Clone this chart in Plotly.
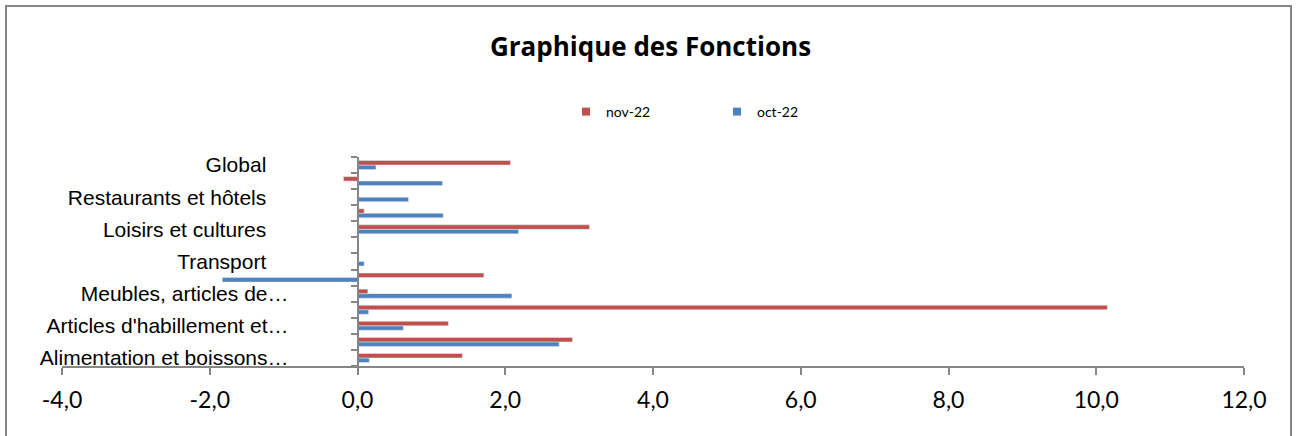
import plotly.graph_objects as go

# ---- data (bottom to top, as displayed) ----
categories = [
    "Alimentation et boissons…",
    "Boissons alcoolisées et tabac",
    "Articles d'habillement et…",
    "Logement, eau, gaz, électricité…",
    "Meubles, articles de…",
    "Santé",
    "Transport",
    "Communication",
    "Loisirs et cultures",
    "Enseignement",
    "Restaurants et hôtels",
    "Biens et services divers",
    "Global",
]
oct_22 = [0.16, 2.73, 0.62, 0.15, 2.09, -1.83, 0.09, 0.0, 2.18, 1.16, 0.69, 1.15, 0.25]
nov_22 = [1.42, 2.91, 1.23, 10.15, 0.14, 1.71, 0.0, 0.0, 3.14, 0.09, 0.0, -0.19, 2.07]
x_ticks = [-4, -2, 0, 2, 4, 6, 8, 10, 12]
x_tick_labels = [f"{v:.1f}".replace(".", ",") for v in x_ticks]
series_names = ["nov-22", "oct-22"]

RED = "#C0504D"
BLUE = "#4F81BD"
AXIS = "#868686"

W, H = 1301, 436
ML, MR, MT, MB = 62, 57, 157, 70
PW, PH = W - ML - MR, H - MT - MB

pos = list(range(len(categories)))
shown = pos[::2]
short_idx = [i for i in shown if not categories[i].endswith("…")]
trunc_idx = [i for i in shown if categories[i].endswith("…")]

fig = go.Figure()
fig.add_trace(go.Bar(x=oct_22, y=pos, orientation="h", name=series_names[1],
                     marker_color=BLUE, showlegend=False,
                     hovertext=categories, hoverinfo="text+x"))
fig.add_trace(go.Bar(x=nov_22, y=pos, orientation="h", name=series_names[0],
                     marker_color=RED, showlegend=False,
                     hovertext=categories, hoverinfo="text+x"))
# legend entries (small square symbols)
for name, col in [(series_names[0], RED), (series_names[1], BLUE)]:
    fig.add_trace(go.Scatter(x=[None], y=[None], mode="markers", name=name,
                             marker=dict(symbol="square", size=8, color=col)))
# empty trace so the second (label-only) y axis is drawn
fig.add_trace(go.Scatter(x=[None], y=[None], yaxis="y2", showlegend=False,
                         hoverinfo="skip"))

x0 = (0 - x_ticks[0]) / (x_ticks[-1] - x_ticks[0])
yr = [-0.5, len(categories) - 0.5]

fig.update_layout(
    width=W, height=H,
    margin=dict(l=ML, r=MR, t=MT, b=MB),
    paper_bgcolor="white", plot_bgcolor="white",
    barmode="group", bargap=0.44, bargroupgap=0,
    title=dict(text="<b>Graphique des Fonctions</b>", x=0.5, xanchor="center",
               y=1 - 47 / H, yanchor="middle", yref="container",
               font=dict(family="Open Sans", size=26, color="black")),
    legend=dict(orientation="h", x=(566 - ML) / PW, xanchor="left",
                y=(H - MB - 112) / PH, yanchor="middle",
                font=dict(family="Lato", size=14, color="black"),
                entrywidth=106, entrywidthmode="pixels",
                bgcolor="rgba(0,0,0,0)"),
    xaxis=dict(range=[x_ticks[0], x_ticks[-1]], tickmode="array",
               tickvals=x_ticks, ticktext=x_tick_labels,
               showgrid=False, zeroline=False, showline=True,
               linecolor=AXIS, linewidth=1.5, ticks="outside", ticklen=7,
               tickcolor=AXIS, tickwidth=1.5, ticklabelstandoff=6,
               tickfont=dict(family="Lato", size=23, color="black")),
    yaxis=dict(range=yr, anchor="free", position=x0, showgrid=False,
               zeroline=False, showline=True, linecolor=AXIS, linewidth=2,
               tickmode="array", tickvals=short_idx,
               ticktext=[categories[i] for i in short_idx],
               ticks="", ticklabelstandoff=86,
               minor=dict(tickmode="array", tickvals=[i - 0.5 for i in range(len(categories) + 1)],
                          ticks="outside", ticklen=6, tickcolor=AXIS, tickwidth=1.5),
               tickfont=dict(family="Liberation Sans", size=21, color="black")),
    yaxis2=dict(range=yr, overlaying="y", anchor="free", position=x0, side="left",
                showgrid=False, zeroline=False, showline=False,
                tickmode="array", tickvals=trunc_idx,
                ticktext=[categories[i] for i in trunc_idx],
                ticks="", ticklabelstandoff=69,
                tickfont=dict(family="Liberation Sans", size=21, color="black")),
    shapes=[dict(type="rect", xref="paper", yref="paper",
                 x0=(6 - ML) / PW, x1=(1291 - ML) / PW,
                 y0=(H - MB - 445) / PH, y1=(H - MB - 6) / PH,
                 line=dict(color=AXIS, width=2), fillcolor="rgba(0,0,0,0)", layer="below")],
)

fig.write_html("out.html", config={"displayModeBar": False},
               post_script="document.body.style.margin='0';")
